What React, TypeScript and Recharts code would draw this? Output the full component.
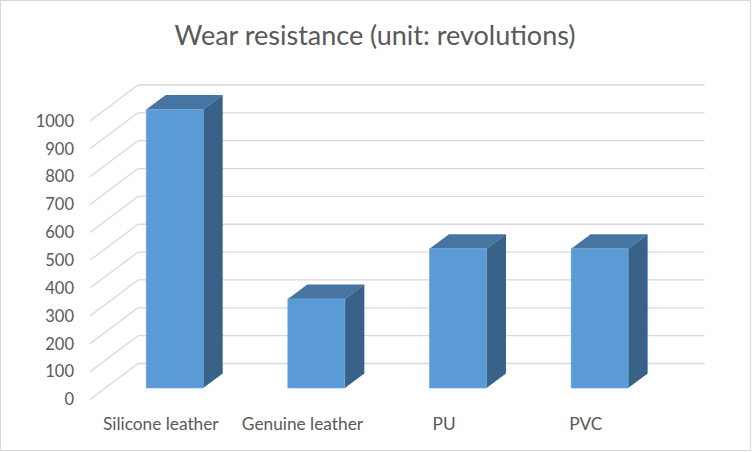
import React from 'react';
import { Bar, BarChart, CartesianGrid, XAxis, YAxis } from 'recharts';

const materials = ['Silicone leather', 'Genuine leather', 'PU', 'PVC'];
const revolutions = [1000, 320, 500, 500];
const yTicks = [0, 100, 200, 300, 400, 500, 600, 700, 800, 900, 1000];

const data = materials.map((name, i) => ({ name, value: revolutions[i] }));

const FONT = 'Lato, "Open Sans", sans-serif';
const TEXT = '#595959';

// oblique 3D offsets, in px, relative to the front plane of the bars
const BAR_DEPTH = { dx: 19.5, dy: -14.5 };
const WALL = { dx: 33.8, dy: -24.5 }; // back wall
const EDGE = { dx: -14.2, dy: 11.5 }; // front edge of the floor / labels

function Box3D(props: any) {
  const { x, y, width, height } = props;
  if (!height) return null;
  const { dx, dy } = BAR_DEPTH;
  const r = x + width;
  const b = y + height;
  return (
    <g>
      <polygon points={`${x},${y} ${x + dx},${y + dy} ${r + dx},${y + dy} ${r},${y}`} fill="#4675a1" />
      <polygon points={`${r},${y} ${r + dx},${y + dy} ${r + dx},${b + dy} ${r},${b}`} fill="#386288" />
      <rect x={x} y={y} width={width} height={height} fill="#5b9bd5" stroke="#6aa6dc" strokeWidth={0.6} />
    </g>
  );
}

function gridLine(props: any) {
  const { x1, x2, y1, key } = props;
  const bx = x1 + WALL.dx;
  const by = y1 + WALL.dy;
  return (
    <g key={key}>
      <line x1={x1 + EDGE.dx} y1={y1 + EDGE.dy} x2={bx} y2={by} stroke="#d9d9d9" strokeWidth={1.3} />
      <line x1={bx} y1={by} x2={x2 + WALL.dx} y2={by} stroke="#d9d9d9" strokeWidth={1.3} />
    </g>
  );
}

function YTick(props: any) {
  const { y, payload } = props;
  return (
    <text x={74} y={y + EDGE.dy} dy="0.35em" textAnchor="end" fill={TEXT} fontSize={16.5} fontFamily={FONT}>
      {payload.value}
    </text>
  );
}

function XTick(props: any) {
  const { x, y, payload } = props;
  return (
    <text x={x + EDGE.dx} y={y + 28} dy="0.35em" textAnchor="middle" fill={TEXT} fontSize={17.3} fontFamily={FONT}>
      {payload.value}
    </text>
  );
}

export default function App() {
  return (
    <div style={{ position: 'absolute', left: 0, top: 0, width: 752, height: 452, background: '#fff' }}>
      <div
        style={{
          position: 'absolute',
          left: 0,
          top: 15,
          width: 750,
          textAlign: 'center',
          fontFamily: FONT,
          fontSize: 27,
          color: TEXT,
          lineHeight: '40px',
        }}
      >
        Wear resistance (unit: revolutions)
      </div>
      <BarChart
        width={752}
        height={452}
        data={data}
        margin={{ top: 109.5, right: 81.2, bottom: 0, left: 0 }}
        barSize={57}
      >
        <CartesianGrid vertical={false} horizontal={gridLine} />
        <XAxis dataKey="name" height={64} axisLine={false} tickLine={false} tick={<XTick />} interval={0} />
        <YAxis
          width={104.2}
          domain={[0, 1000]}
          ticks={yTicks}
          axisLine={false}
          tickLine={false}
          tick={<YTick />}
          interval={0}
        />
        <Bar dataKey="value" shape={<Box3D />} isAnimationActive={false} />
      </BarChart>
      <div
        style={{
          position: 'absolute',
          left: 0,
          top: 0,
          width: 751,
          height: 451,
          boxSizing: 'border-box',
          border: '1px solid #d9d9d9',
          pointerEvents: 'none',
        }}
      />
    </div>
  );
}
